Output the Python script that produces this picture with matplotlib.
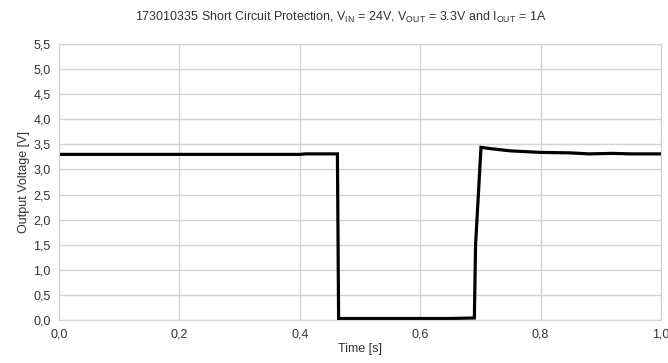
import matplotlib
matplotlib.use("Agg")
import matplotlib.pyplot as plt
from matplotlib.ticker import FuncFormatter, MultipleLocator

plt.rcParams['font.family'] = ['Liberation Sans', 'DejaVu Sans']
plt.rcParams['mathtext.fontset'] = 'custom'
plt.rcParams['mathtext.rm'] = 'Liberation Sans'
plt.rcParams['mathtext.it'] = 'Liberation Sans'

# waveform
time_s = [0.0, 0.20, 0.40, 0.41, 0.4625, 0.4645, 0.55, 0.65, 0.690,
          0.692, 0.701, 0.72, 0.75, 0.80, 0.85, 0.88, 0.92, 0.95, 1.0]
vout_v = [3.30, 3.30, 3.30, 3.31, 3.31, 0.03, 0.03, 0.03, 0.04,
          1.50, 3.44, 3.41, 3.37, 3.34, 3.33, 3.31, 3.32, 3.31, 3.31]

fig = plt.figure(figsize=(6.68, 3.63), dpi=100)
ax = fig.add_axes([0.0883, 0.1185, 0.9012, 0.7603])

ax.plot(time_s, vout_v, color='black', linewidth=2.3, solid_joinstyle='miter')

ax.set_xlim(0, 1.0)
ax.set_ylim(0, 5.5)
ax.xaxis.set_major_locator(MultipleLocator(0.2))
ax.yaxis.set_major_locator(MultipleLocator(0.5))
comma = FuncFormatter(lambda v, p: f"{v:.1f}".replace('.', ','))
ax.xaxis.set_major_formatter(comma)
ax.yaxis.set_major_formatter(comma)
ax.grid(True, color='#d4d4d4', linewidth=1.0)
ax.set_axisbelow(True)
for s in ax.spines.values():
    s.set_color('#d4d4d4')
ax.tick_params(length=0, labelsize=9, colors='#333333', pad=6)

ax.set_xlabel("Time [s]", fontsize=9, color='#333333', labelpad=2)
ax.set_ylabel("Output Voltage [V]", fontsize=9, color='#333333', labelpad=2)
fig.text(341 / 668, 1 - 17 / 363,
         r"173010335 Short Circuit Protection, V$_{\mathrm{IN}}$ = 24V, "
         r"V$_{\mathrm{OUT}}$ = 3.3V and I$_{\mathrm{OUT}}$ = 1A",
         fontsize=9, color='#333333', ha='center', va='center')

fig.savefig("out.png", dpi=100)
